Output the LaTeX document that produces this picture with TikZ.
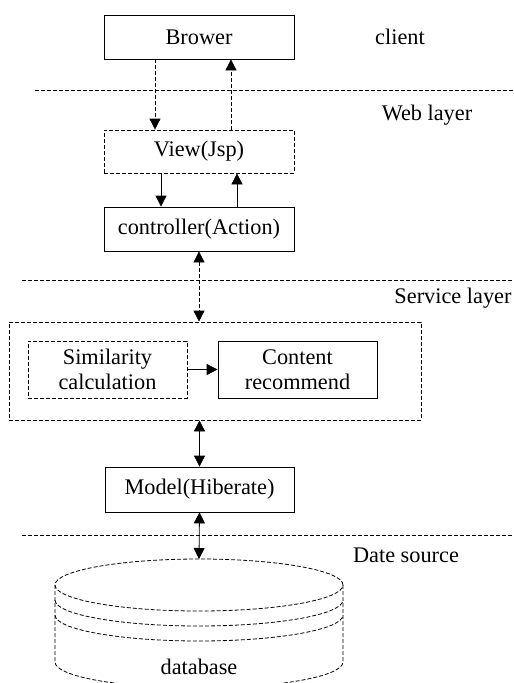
\documentclass[tikz,border=0pt]{standalone}
\usepackage{fontspec}
\setmainfont{Liberation Serif}
\usetikzlibrary{arrows.meta,positioning}

\tikzset{
  box/.style={draw,line width=0.8pt,minimum width=190pt,minimum height=44pt,inner sep=0pt},
  dbox/.style={box,dash pattern=on 4pt off 2pt},
  solidline/.style={line width=0.8pt},
  dline/.style={line width=0.8pt,dash pattern=on 4pt off 2pt},
  arr/.style={-{Triangle[length=11pt,width=11pt]}},
  darr/.style={{Triangle[length=11pt,width=11pt]}-{Triangle[length=11pt,width=11pt]}}
}

\begin{document}
\begin{tikzpicture}[x=1pt,y=1pt,font=\fontsize{22.3}{25}\selectfont]
\useasboundingbox (0,0) rectangle (514,-683);

\node[dbox,minimum width=412pt,minimum height=98pt] (service) at (215,-371){};
\node[box] (brower) at (199,-37){Brower};
\node[dbox,minimum height=43pt] (view) at (199,-151.5){View(Jsp)};
\node[box] (controller) at (199,-229){controller(Action)};
\node[dbox,minimum width=159pt,minimum height=57pt,align=center] (similarity) at (107.5,-369.5){Similarity\\calculation};
\node[box,minimum width=159pt,minimum height=57pt,align=center] (content) at (297.5,-369.5){Content\\recommend};
\node[box,minimum width=189pt,minimum height=45pt] (model) at (199.5,-489.5){Model(Hiberate)};

\node (client) at (400,-37){client};
\node (web) at (427,-115){Web layer};
\node (servicelayer) at (453,-298){Service layer};
\node (datesource) at (406,-555){Date source};

\draw[dline] (35,-90) -- (514,-90);
\draw[dline] (22,-280) -- (514,-280);
\draw[dline] (22,-535) -- (514,-535);

\draw[dline] (199,-585) ellipse [x radius=144,y radius=26];
\draw[dline] (55,-600) arc[start angle=180,end angle=360,x radius=144,y radius=26];
\draw[dline] (55,-615) arc[start angle=180,end angle=360,x radius=144,y radius=26];
\draw[dline] (55,-585) -- (55,-662) arc[start angle=180,end angle=360,x radius=144,y radius=26] -- (343,-585);
\node (database) at (199,-667){database};
\coordinate (dbtop) at (199,-559);

\draw[dline,arr] ([xshift=-44pt]brower.south) -- ([xshift=-44pt]view.north);
\draw[dline,arr] ([xshift=32pt]view.north) -- ([xshift=32pt]brower.south);
\draw[solidline,arr] ([xshift=-38pt]view.south) -- ([xshift=-38pt]controller.north);
\draw[solidline,arr] ([xshift=38pt]controller.north) -- ([xshift=38pt]view.south);
\draw[dline,darr] (controller.south) -- (controller.south |- service.north);
\draw[solidline,arr] (similarity.east) -- (content.west);
\draw[solidline,darr] (service.south -| model.north) -- (model.north);
\draw[solidline,darr] (model.south) -- (dbtop);

\end{tikzpicture}
\end{document}
